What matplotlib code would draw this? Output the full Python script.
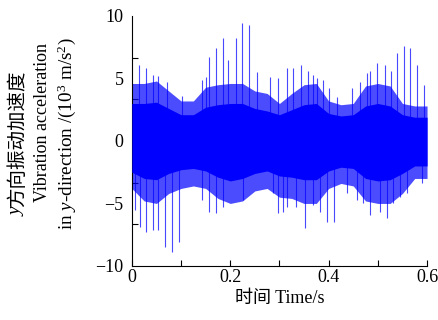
import matplotlib
matplotlib.use("Agg")
import matplotlib.pyplot as plt
import numpy as np

plt.rcParams['font.family'] = ['Liberation Serif', 'Noto Sans CJK SC']
plt.rcParams['mathtext.fontset'] = 'custom'
plt.rcParams['mathtext.rm'] = 'Liberation Serif'
plt.rcParams['mathtext.it'] = 'Liberation Serif:italic'

# envelope of the signal, read every 0.025 s
env_t = [0, 0.025, 0.05, 0.075, 0.1, 0.125, 0.15, 0.175, 0.2, 0.225, 0.25, 0.275,
         0.3, 0.325, 0.35, 0.375, 0.4, 0.425, 0.45, 0.475, 0.5, 0.525, 0.55, 0.575, 0.6]
outer_hi = [4.6, 4.6, 4.8, 4.0, 3.2, 3.2, 4.3, 4.5, 4.6, 4.6, 4.0, 3.8,
            3.0, 3.8, 4.5, 4.6, 3.2, 2.9, 3.0, 4.4, 4.6, 4.4, 3.0, 2.8, 2.8]
outer_lo = [-3.8, -4.8, -5.0, -4.2, -3.8, -3.6, -3.8, -4.6, -5.0, -4.8, -4.0, -3.8,
            -4.5, -4.6, -5.0, -5.0, -3.8, -3.4, -3.6, -4.8, -5.0, -5.0, -4.2, -3.0, -3.0]
core_hi = [3.0, 3.0, 3.1, 2.6, 2.1, 2.1, 2.7, 2.9, 3.0, 3.0, 2.6, 2.4,
           2.1, 2.5, 2.9, 3.0, 2.2, 2.0, 2.1, 2.8, 3.0, 2.8, 2.1, 1.9, 1.9]
core_lo = [-2.5, -3.0, -3.1, -2.6, -2.3, -2.2, -2.4, -2.9, -3.2, -3.0, -2.6, -2.4,
           -2.8, -2.9, -3.1, -3.1, -2.4, -2.1, -2.2, -3.0, -3.2, -3.1, -2.6, -2.0, -2.0]

# individual peaks (time, value)
peak_t = [0.015, 0.028, 0.043, 0.054, 0.071, 0.102, 0.142, 0.150, 0.157, 0.172,
          0.186, 0.196, 0.211, 0.224, 0.239, 0.254, 0.281, 0.298, 0.315,
          0.328, 0.343, 0.359, 0.369, 0.376, 0.388, 0.401, 0.416, 0.447, 0.464,
          0.477, 0.484, 0.498, 0.515, 0.526, 0.538, 0.553, 0.565, 0.579, 0.594]
peak_v = [6.1, 5.8, 5.3, 5.2, 4.7, 3.6, 4.9, 5.1, 6.7, 7.4,
          8.2, 6.5, 8.2, 9.4, 9.3, 5.5, 5.1, 5.0, 5.8,
          5.8, 6.1, 5.6, 5.3, 5.0, 4.9, 4.2, 3.5, 4.2, 4.7,
          5.4, 5.6, 6.2, 6.1, 5.6, 7.0, 7.6, 7.4, 6.1, 4.5]
trough_t = [0.006, 0.016, 0.028, 0.043, 0.054, 0.068, 0.082, 0.096, 0.142, 0.157,
            0.172, 0.186, 0.226, 0.287, 0.298, 0.308, 0.315, 0.334, 0.352, 0.369,
            0.382, 0.396, 0.411, 0.437, 0.457, 0.470, 0.484, 0.505, 0.519, 0.531,
            0.545, 0.559, 0.589]
trough_v = [-5.5, -6.9, -7.3, -7.1, -7.1, -8.5, -8.9, -8.1, -4.7, -5.7,
            -5.8, -5.3, -4.7, -4.2, -5.8, -5.7, -5.3, -5.3, -7.0, -5.1,
            -5.7, -6.5, -6.5, -4.2, -4.7, -5.0, -5.9, -5.7, -6.2, -5.0,
            -4.5, -4.2, -3.4]

blue = '#0000ff'

fig = plt.figure(figsize=(4.38, 3.2), dpi=100)
ax = fig.add_axes([0.301, 0.169, 0.674, 0.781])

# spikes first so the dense band covers their roots
ax.vlines(peak_t, 0, peak_v, color='#4848ff', lw=0.8, zorder=1)
ax.vlines(trough_t, trough_v, 0, color='#4848ff', lw=0.8, zorder=1)
ax.fill_between(env_t, outer_lo, outer_hi, color=blue, alpha=0.7, lw=0, zorder=2)
ax.fill_between(env_t, core_lo, core_hi, color=blue, lw=0, zorder=3)

ax.set_xlim(0, 0.6)
ax.set_ylim(-10, 10)
ax.spines['top'].set_visible(False)
ax.spines['right'].set_visible(False)
for s in ('left', 'bottom'):
    ax.spines[s].set_linewidth(0.8)

ax.set_xticks([0, 0.2, 0.4, 0.6])
ax.set_xticklabels(['0', '0.2', '0.4', '0.6'])
ax.set_xticks([0.1, 0.3, 0.5], minor=True)
ax.tick_params(axis='x', which='both', direction='in', length=4, width=0.8,
               labelsize=13, pad=2)

ax.set_yticks([-10, -5, 0, 5, 10])
ax.set_yticks(np.linspace(-10, 10, 7), minor=True)
ax.tick_params(axis='y', which='major', length=0, labelsize=13, pad=6)
ax.tick_params(axis='y', which='minor', direction='in', length=4, width=0.8)

ax.set_xlabel('时间 Time/s', fontsize=13, labelpad=3)

# y label, three rotated lines
fig.text(0.040, 0.353, '方向振动加速度', rotation=90, ha='center', va='bottom', fontsize=14)
fig.text(0.040, 0.353, 'y', rotation=90, ha='center', va='top', fontsize=14, style='italic')
fig.text(0.098, 0.369, 'Vibration acceleration', rotation=90, ha='center', va='bottom', fontsize=13)
fig.text(0.153, 0.281, r'in $y$-direction /(10$^3$ m/s$^2$)', rotation=90, ha='center', va='bottom', fontsize=13.8)

fig.savefig('out.png', dpi=100)
